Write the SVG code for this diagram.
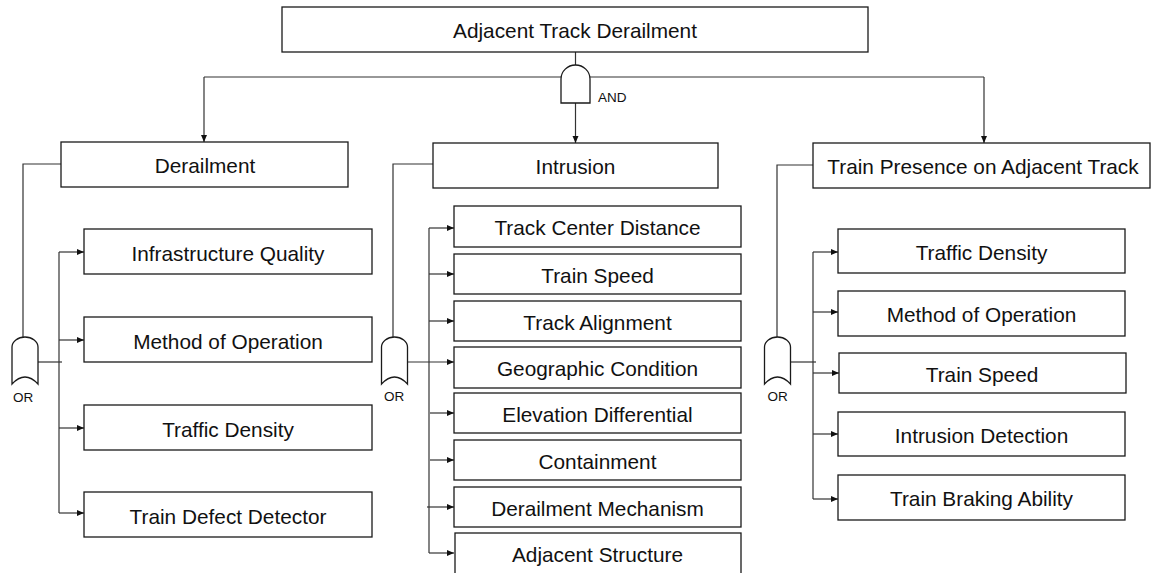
<svg xmlns="http://www.w3.org/2000/svg" width="1151" height="573" viewBox="0 0 1151 573">
<style>
.box{fill:#fff;stroke:#1a1a1a;stroke-width:1.3}
.gate{fill:#fff;stroke:#1a1a1a;stroke-width:1.3}
.ln{fill:none;stroke:#333;stroke-width:1.2}
.arr{fill:none;stroke:#333;stroke-width:1.2;marker-end:url(#ah)}
.t{font-family:"Liberation Sans",Arial,sans-serif;font-size:20.8px;fill:#111;text-anchor:middle}
.s{font-family:"Liberation Sans",Arial,sans-serif;font-size:13.5px;fill:#111}
</style>
<defs>
<marker id="ah" markerUnits="userSpaceOnUse" markerWidth="8" markerHeight="7" refX="7" refY="3" orient="auto">
<path d="M0,0 L7,3 L0,6 Z" fill="#111"/>
</marker>
</defs>
<g id="connectors">
<line class="ln" x1="575.5" y1="52" x2="575.5" y2="66"/>
<line class="ln" x1="204" y1="77" x2="984" y2="77"/>
<line class="arr" x1="204" y1="77" x2="204" y2="142"/>
<line class="arr" x1="575.5" y1="103" x2="575.5" y2="143"/>
<line class="arr" x1="984" y1="77" x2="984" y2="143"/>
<polyline class="ln" points="61,164 23,164 23,337"/>
<polyline class="ln" points="433,164 393,164 393,337"/>
<polyline class="ln" points="813,165 777,165 777,337"/>
<line class="ln" x1="38" y1="362" x2="62" y2="362"/>
<line class="ln" x1="59" y1="252" x2="59" y2="513"/>
<line class="arr" x1="59" y1="252" x2="84" y2="252"/>
<line class="arr" x1="59" y1="340" x2="84" y2="340"/>
<line class="arr" x1="59" y1="428" x2="84" y2="428"/>
<line class="arr" x1="59" y1="513" x2="84" y2="513"/>
<line class="arr" x1="407" y1="362" x2="454" y2="362"/>
<line class="ln" x1="429" y1="228" x2="429" y2="553"/>
<line class="arr" x1="429" y1="228" x2="454" y2="228"/>
<line class="arr" x1="429" y1="274" x2="454" y2="274"/>
<line class="arr" x1="429" y1="321" x2="454" y2="321"/>
<line class="arr" x1="430" y1="413" x2="454" y2="413"/>
<line class="arr" x1="430" y1="460" x2="454" y2="460"/>
<line class="arr" x1="427" y1="507" x2="454" y2="507"/>
<line class="arr" x1="429" y1="553" x2="454" y2="553"/>
<line class="ln" x1="791" y1="362" x2="816" y2="362"/>
<line class="ln" x1="813" y1="252" x2="813" y2="499"/>
<line class="arr" x1="813" y1="252" x2="838" y2="252"/>
<line class="arr" x1="813" y1="312" x2="838" y2="312"/>
<line class="arr" x1="813" y1="373" x2="839" y2="373"/>
<line class="arr" x1="813" y1="434" x2="838" y2="434"/>
<line class="arr" x1="813" y1="499" x2="838" y2="499"/>
</g>
<g id="top">
<rect class="box" x="282" y="7" width="586" height="45"/>
<text class="t" x="575" y="38">Adjacent Track Derailment</text>
</g>
<g id="and-gate">
<path class="gate" d="M561,103 V79 A14.5,14 0 0 1 590,79 V103 Z"/>
<text class="s" x="598" y="101.5">AND</text>
</g>
<g id="derailment">
<rect class="box" x="61" y="142" width="287" height="45"/>
<text class="t" x="205" y="173">Derailment</text>
</g>
<g id="intrusion">
<rect class="box" x="433" y="143" width="285" height="45"/>
<text class="t" x="575.5" y="174">Intrusion</text>
</g>
<g id="train-presence">
<rect class="box" x="813" y="143" width="337" height="45"/>
<text class="t" x="983" y="174">Train Presence on Adjacent Track</text>
</g>
<g id="or-left">
<path class="gate" d="M12,384 V347 A13,10 0 0 1 38,347 V384 Q25,370 12,384 Z"/>
<text class="s" x="23" y="401.5" text-anchor="middle">OR</text>
</g>
<g id="or-middle">
<path class="gate" d="M381.5,384 V347 A13,10 0 0 1 407.5,347 V384 Q394.5,370 381.5,384 Z"/>
<text class="s" x="394" y="400.5" text-anchor="middle">OR</text>
</g>
<g id="or-right">
<path class="gate" d="M764.5,384 V347 A13,10 0 0 1 790.5,347 V384 Q777.5,370 764.5,384 Z"/>
<text class="s" x="777.5" y="401" text-anchor="middle">OR</text>
</g>
<g id="infrastructure-quality"><rect class="box" x="84" y="229" width="288" height="45"/><text class="t" x="228" y="260.5">Infrastructure Quality</text></g>
<g id="method-of-operation-1"><rect class="box" x="84" y="317" width="288" height="45"/><text class="t" x="228" y="348.5">Method of Operation</text></g>
<g id="traffic-density-1"><rect class="box" x="84" y="405" width="288" height="45"/><text class="t" x="228" y="436.5">Traffic Density</text></g>
<g id="train-defect-detector"><rect class="box" x="84" y="492" width="288" height="45"/><text class="t" x="228" y="523.5">Train Defect Detector</text></g>
<g id="track-center-distance"><rect class="box" x="454" y="206" width="287" height="41"/><text class="t" x="597.5" y="235">Track Center Distance</text></g>
<g id="train-speed-1"><rect class="box" x="454" y="254" width="287" height="40"/><text class="t" x="597.5" y="282.5">Train Speed</text></g>
<g id="track-alignment"><rect class="box" x="454" y="301" width="287" height="40"/><text class="t" x="597.5" y="329.5">Track Alignment</text></g>
<g id="geographic-condition"><rect class="box" x="454" y="347" width="287" height="41"/><text class="t" x="597.5" y="376">Geographic Condition</text></g>
<g id="elevation-differential"><rect class="box" x="454" y="393" width="287" height="40"/><text class="t" x="597.5" y="421.5">Elevation Differential</text></g>
<g id="containment"><rect class="box" x="454" y="440" width="287" height="40"/><text class="t" x="597.5" y="468.5">Containment</text></g>
<g id="derailment-mechanism"><rect class="box" x="454" y="487" width="287" height="40"/><text class="t" x="597.5" y="515.5">Derailment Mechanism</text></g>
<g id="adjacent-structure"><rect class="box" x="455" y="533" width="286" height="42"/><text class="t" x="597.5" y="562">Adjacent Structure</text></g>
<g id="traffic-density-2"><rect class="box" x="838" y="229" width="287" height="44"/><text class="t" x="981.5" y="259.5">Traffic Density</text></g>
<g id="method-of-operation-2"><rect class="box" x="838" y="291" width="287" height="45"/><text class="t" x="981.5" y="322">Method of Operation</text></g>
<g id="train-speed-2"><rect class="box" x="839" y="353" width="287" height="40"/><text class="t" x="982" y="381.5">Train Speed</text></g>
<g id="intrusion-detection"><rect class="box" x="838" y="412" width="287" height="44"/><text class="t" x="981.5" y="442.5">Intrusion Detection</text></g>
<g id="train-braking-ability"><rect class="box" x="838" y="475" width="287" height="45"/><text class="t" x="981.5" y="506">Train Braking Ability</text></g>
</svg>
